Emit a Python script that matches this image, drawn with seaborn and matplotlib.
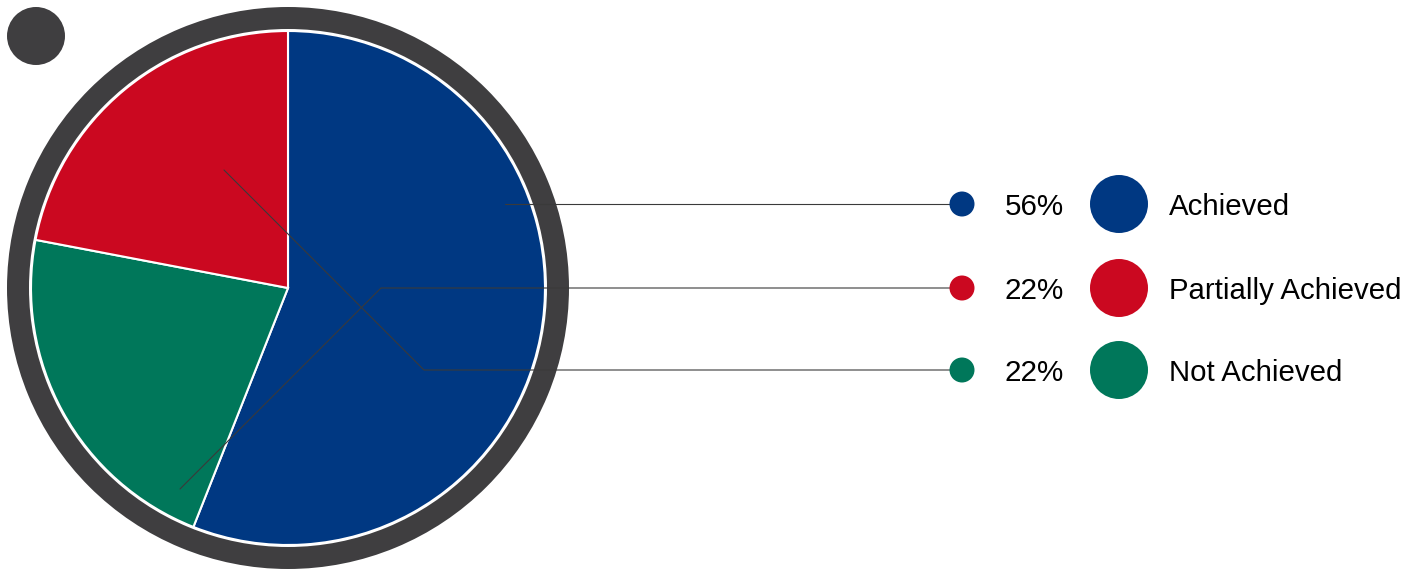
import matplotlib
matplotlib.use('Agg')
import matplotlib.pyplot as plt
from matplotlib.patches import Circle
import seaborn as sns

# dados
categorias = ['Achieved', 'Partially Achieved', 'Not Achieved']
valores = [56, 22, 22]
rotulos_pct = ['56%', '22%', '22%']
cores = ['#003882', '#CB0820', '#00775A']
# ordem das fatias na pizza (sentido horario a partir do topo)
ordem_pizza = [0, 2, 1]
cinza = '#3F3E40'

sns.set_theme(style='white')
plt.rcParams['font.family'] = ['Liberation Sans', 'DejaVu Sans']

W, H = 1419, 570


def py(y):
    # converte y em pixels (de cima) para coordenada do eixo
    return H - y


fig = plt.figure(figsize=(W / 100, H / 100), dpi=100)
ax = fig.add_axes([0, 0, 1, 1])

centro = (288, py(288))

# anel cinza em volta da pizza
ax.pie([1], colors=[cinza], radius=281, center=centro,
       wedgeprops=dict(width=22, linewidth=0))

# pizza
ax.pie([valores[i] for i in ordem_pizza], colors=[cores[i] for i in ordem_pizza],
       radius=257, center=centro, startangle=90, counterclock=False,
       wedgeprops=dict(edgecolor='white', linewidth=1.5))

# bolinha no canto
ax.add_patch(Circle((36, py(36)), 29, color=cinza, lw=0))

# linhas de chamada (ponto dentro da pizza -> cotovelo -> legenda)
linhas_y = [204, 288, 370]
inicio = [(505, 204), (180, 489), (224, 170)]
cotovelo = [(505, 204), (381, 288), (424, 370)]
x_ponto = 962

for i, cat in enumerate(categorias):
    x0, y0 = inicio[i]
    x1, y1 = cotovelo[i]
    ax.plot([x0, x1, x_ponto], [py(y0), py(y1), py(linhas_y[i])],
            color='#3A3A3A', lw=0.8, zorder=3)
    ax.add_patch(Circle((x_ponto, py(linhas_y[i])), 12.5, color=cores[i], lw=0, zorder=4))
    ax.text(1005, py(linhas_y[i] + 3), rotulos_pct[i], fontsize=21.3, color='black',
            va='center', ha='left')
    ax.add_patch(Circle((1119, py(linhas_y[i])), 29, color=cores[i], lw=0, zorder=4))
    ax.text(1169, py(linhas_y[i] + 3), cat, fontsize=21.2, color='black',
            va='center', ha='left')

ax.set_xlim(0, W)
ax.set_ylim(0, H)
ax.set_aspect('equal')
ax.axis('off')

fig.savefig('out.png', dpi=100)
